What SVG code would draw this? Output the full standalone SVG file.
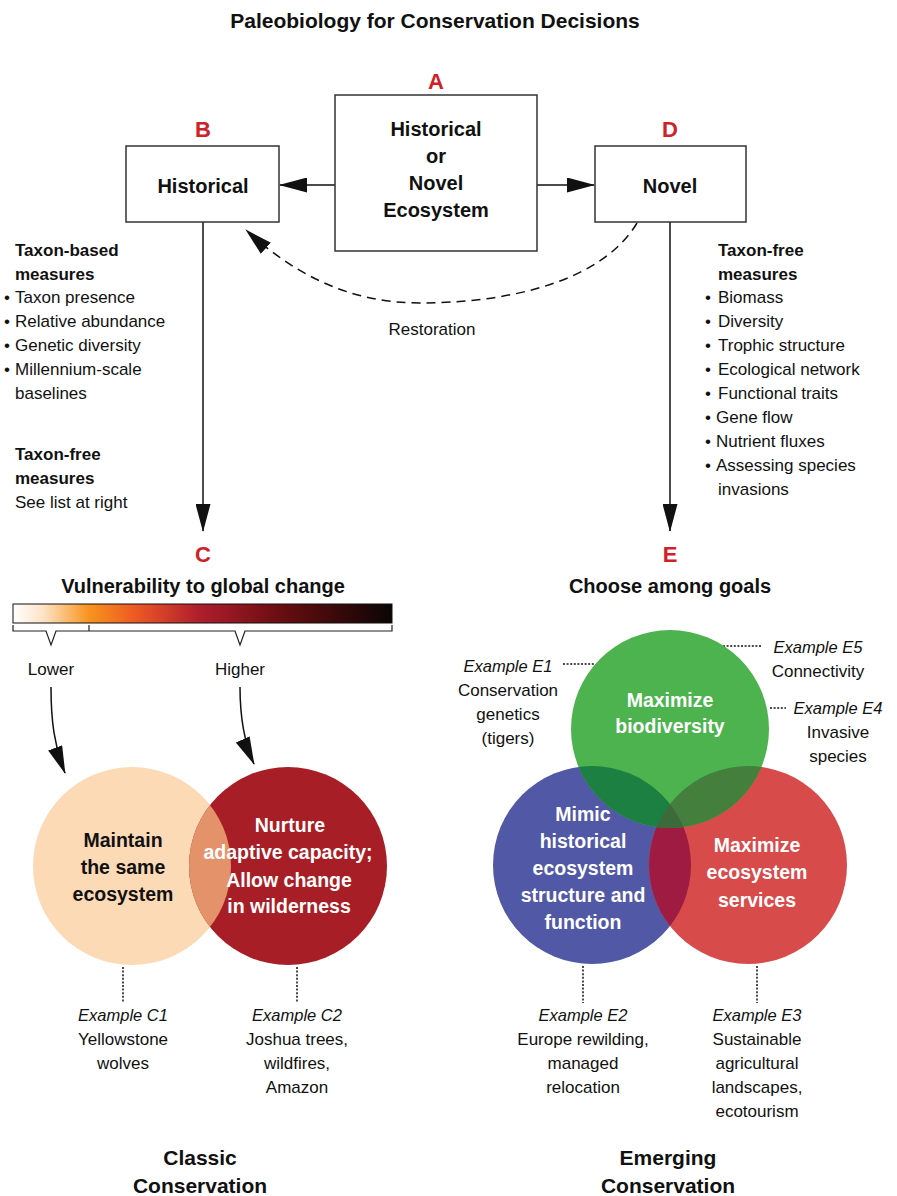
<svg xmlns="http://www.w3.org/2000/svg" width="897" height="1196" viewBox="0 0 897 1196">
<defs>
<style>
text{font-family:"Liberation Sans",Arial,sans-serif;fill:#111;}
.t{font-size:21px;font-weight:bold;text-anchor:middle;}
.lab{font-size:22px;font-weight:bold;fill:#CC2229;text-anchor:middle;}
.bx{font-size:20px;font-weight:bold;text-anchor:middle;}
.b{font-size:17px;font-weight:bold;}
.r{font-size:17px;}
.c{text-anchor:middle;}
.i{font-size:16.5px;font-style:italic;}
.v{font-size:19.5px;font-weight:bold;text-anchor:middle;}
.w{fill:#fff;}
.box{fill:#fff;stroke:#333;stroke-width:1.5;}
.ln{fill:none;stroke:#111;stroke-width:1.5;}
.dot{fill:none;stroke:#111;stroke-width:1.5;stroke-dasharray:2 1.6;}
</style>
<marker id="ah" markerUnits="userSpaceOnUse" markerWidth="28" markerHeight="15" viewBox="0 0 28 15" refX="27" refY="7.5" orient="auto">
<path d="M0,0 L28,7.5 L0,15 z" fill="#111"/>
</marker>
<linearGradient id="grad" x1="0" y1="0" x2="1" y2="0">
<stop offset="0" stop-color="#FFFFFF"/>
<stop offset="0.08" stop-color="#FDE3C6"/>
<stop offset="0.2" stop-color="#F7941D"/>
<stop offset="0.32" stop-color="#EE5A24"/>
<stop offset="0.49" stop-color="#B01E2D"/>
<stop offset="0.71" stop-color="#680D10"/>
<stop offset="1" stop-color="#0B0505"/>
</linearGradient>
<clipPath id="cpL"><circle cx="132" cy="866" r="99"/></clipPath>
<clipPath id="cpB"><circle cx="592" cy="865" r="99"/></clipPath>
<clipPath id="cpR"><circle cx="748" cy="865" r="99"/></clipPath>
</defs>
<rect width="897" height="1196" fill="#fff"/>

<text class="t" x="435" y="28">Paleobiology for Conservation Decisions</text>

<g id="connectors">
<line class="ln" x1="335" y1="185" x2="280" y2="185" marker-end="url(#ah)"/>
<line class="ln" x1="537" y1="185" x2="594" y2="185" marker-end="url(#ah)"/>
<path class="ln" d="M637,223 C600,285 500,303 420,303 C350,303 295,275 246,230" stroke-dasharray="9 6" marker-end="url(#ah)"/>
<line class="ln" x1="203" y1="222" x2="203" y2="531" marker-end="url(#ah)"/>
<line class="ln" x1="670" y1="222" x2="670" y2="531" marker-end="url(#ah)"/>
<path class="ln" d="M51,687 C51,720 54,745 65,773" marker-end="url(#ah)"/>
<path class="ln" d="M240,687 C240,715 243,740 254,764" marker-end="url(#ah)"/>
<line class="dot" x1="123" y1="967" x2="123" y2="1003"/>
<line class="dot" x1="297" y1="967" x2="297" y2="1003"/>
<line class="dot" x1="583" y1="966" x2="583" y2="1003"/>
<line class="dot" x1="757" y1="966" x2="757" y2="1003"/>
<line class="dot" x1="563" y1="664" x2="594" y2="664"/>
<line class="dot" x1="723" y1="646" x2="762" y2="646"/>
<line class="dot" x1="770" y1="708" x2="786" y2="708"/>
</g>

<g id="nodeA">
<text class="lab" x="436" y="89">A</text>
<rect class="box" x="335" y="95" width="202" height="156"/>
<text class="bx" x="436" y="136">Historical</text>
<text class="bx" x="436" y="163">or</text>
<text class="bx" x="436" y="190">Novel</text>
<text class="bx" x="436" y="217">Ecosystem</text>
</g>

<g id="nodeB">
<text class="lab" x="203" y="137">B</text>
<rect class="box" x="126" y="146" width="153" height="76"/>
<text class="bx" x="203" y="193">Historical</text>
</g>

<g id="nodeD">
<text class="lab" x="670" y="137">D</text>
<rect class="box" x="595" y="146" width="151" height="76"/>
<text class="bx" x="670" y="193">Novel</text>
</g>

<g id="leftMeasures">
<text class="b" x="15" y="256">Taxon-based</text>
<text class="b" x="15" y="280">measures</text>
<text class="r" x="4" y="303">•</text><text class="r" x="15" y="303">Taxon presence</text>
<text class="r" x="4" y="327">•</text><text class="r" x="15" y="327">Relative abundance</text>
<text class="r" x="4" y="351">•</text><text class="r" x="15" y="351">Genetic diversity</text>
<text class="r" x="4" y="375">•</text><text class="r" x="15" y="375">Millennium-scale</text>
<text class="r" x="15" y="399">baselines</text>
<text class="b" x="15" y="460">Taxon-free</text>
<text class="b" x="15" y="484">measures</text>
<text class="r" x="15" y="508">See list at right</text>
</g>

<g id="rightMeasures">
<text class="b" x="718" y="256">Taxon-free</text>
<text class="b" x="718" y="280">measures</text>
<text class="r" x="705" y="303">•</text><text class="r" x="718" y="303">Biomass</text>
<text class="r" x="705" y="327">•</text><text class="r" x="718" y="327">Diversity</text>
<text class="r" x="705" y="351">•</text><text class="r" x="718" y="351">Trophic structure</text>
<text class="r" x="705" y="375">•</text><text class="r" x="718" y="375">Ecological network</text>
<text class="r" x="705" y="399">•</text><text class="r" x="718" y="399">Functional traits</text>
<text class="r" x="705" y="423">•</text><text class="r" x="716" y="423">Gene flow</text>
<text class="r" x="705" y="447">•</text><text class="r" x="716" y="447">Nutrient fluxes</text>
<text class="r" x="705" y="471">•</text><text class="r" x="716" y="471">Assessing species</text>
<text class="r" x="718" y="495">invasions</text>
</g>

<g id="restorationLabel">
<text class="r c" x="432" y="335">Restoration</text>
</g>

<g id="nodeC">
<text class="lab" x="203" y="562">C</text>
<text class="bx" x="203" y="593">Vulnerability to global change</text>
<rect x="13" y="604" width="379" height="19" fill="url(#grad)" stroke="#111" stroke-width="1"/>
<path d="M13,625 V631 H46 L51,645 L56,631 H89 V625 M89,631 H235 L240,645 L245,631 H392 V625" fill="none" stroke="#222" stroke-width="1.2"/>
<text class="r c" x="51" y="675">Lower</text>
<text class="r c" x="240" y="675">Higher</text>
</g>

<g id="classicVenn">
<circle cx="132" cy="866" r="99" fill="#FCDAB5"/>
<circle cx="288" cy="866" r="99" fill="#A81E26"/>
<circle cx="288" cy="866" r="99" fill="#E4926A" clip-path="url(#cpL)"/>
<text class="v" x="123" y="847">Maintain</text>
<text class="v" x="123" y="874">the same</text>
<text class="v" x="123" y="901">ecosystem</text>
<text class="v w" x="290" y="832">Nurture</text>
<text class="v w" x="288" y="859">adaptive capacity;</text>
<text class="v w" x="289" y="887">Allow change</text>
<text class="v w" x="289" y="913">in wilderness</text>
</g>

<g id="exampleC1">
<text class="i c" x="123" y="1021">Example C1</text>
<text class="r c" x="123" y="1045">Yellowstone</text>
<text class="r c" x="123" y="1069">wolves</text>
</g>
<g id="exampleC2">
<text class="i c" x="297" y="1021">Example C2</text>
<text class="r c" x="297" y="1045">Joshua trees,</text>
<text class="r c" x="297" y="1069">wildfires,</text>
<text class="r c" x="297" y="1093">Amazon</text>
</g>

<g id="nodeE">
<text class="lab" x="670" y="562">E</text>
<text class="bx" x="670" y="593">Choose among goals</text>
</g>

<g id="emergingVenn">
<circle cx="592" cy="865" r="99" fill="#5158A5"/>
<circle cx="748" cy="865" r="99" fill="#D74B4B"/>
<circle cx="670" cy="729" r="99" fill="#4DB34F"/>
<circle cx="748" cy="865" r="99" fill="#A01B41" clip-path="url(#cpB)"/>
<circle cx="670" cy="729" r="99" fill="#1B8042" clip-path="url(#cpB)"/>
<circle cx="670" cy="729" r="99" fill="#447F3E" clip-path="url(#cpR)"/>
<g clip-path="url(#cpR)"><circle cx="670" cy="729" r="99" fill="#3C6A3A" clip-path="url(#cpB)"/></g>
<text class="v w" x="670" y="707">Maximize</text>
<text class="v w" x="670" y="733">biodiversity</text>
<text class="v w" x="583" y="821">Mimic</text>
<text class="v w" x="583" y="848">historical</text>
<text class="v w" x="583" y="875">ecosystem</text>
<text class="v w" x="583" y="902">structure and</text>
<text class="v w" x="583" y="929">function</text>
<text class="v w" x="757" y="852">Maximize</text>
<text class="v w" x="757" y="879">ecosystem</text>
<text class="v w" x="757" y="907">services</text>
</g>

<g id="exampleE1">
<text class="i c" x="508" y="672">Example E1</text>
<text class="r c" x="508" y="696">Conservation</text>
<text class="r c" x="508" y="720">genetics</text>
<text class="r c" x="508" y="744">(tigers)</text>
</g>
<g id="exampleE5">
<text class="i c" x="818" y="653">Example E5</text>
<text class="r c" x="818" y="677">Connectivity</text>
</g>
<g id="exampleE4">
<text class="i c" x="838" y="714">Example E4</text>
<text class="r c" x="838" y="738">Invasive</text>
<text class="r c" x="838" y="762">species</text>
</g>
<g id="exampleE2">
<text class="i c" x="583" y="1021">Example E2</text>
<text class="r c" x="583" y="1045">Europe rewilding,</text>
<text class="r c" x="583" y="1069">managed</text>
<text class="r c" x="583" y="1093">relocation</text>
</g>
<g id="exampleE3">
<text class="i c" x="757" y="1021">Example E3</text>
<text class="r c" x="757" y="1045">Sustainable</text>
<text class="r c" x="757" y="1069">agricultural</text>
<text class="r c" x="757" y="1093">landscapes,</text>
<text class="r c" x="757" y="1117">ecotourism</text>
</g>

<g id="classicLabel">
<text class="t" x="200" y="1165">Classic</text>
<text class="t" x="200" y="1193">Conservation</text>
</g>
<g id="emergingLabel">
<text class="t" x="668" y="1165">Emerging</text>
<text class="t" x="668" y="1193">Conservation</text>
</g>
</svg>
